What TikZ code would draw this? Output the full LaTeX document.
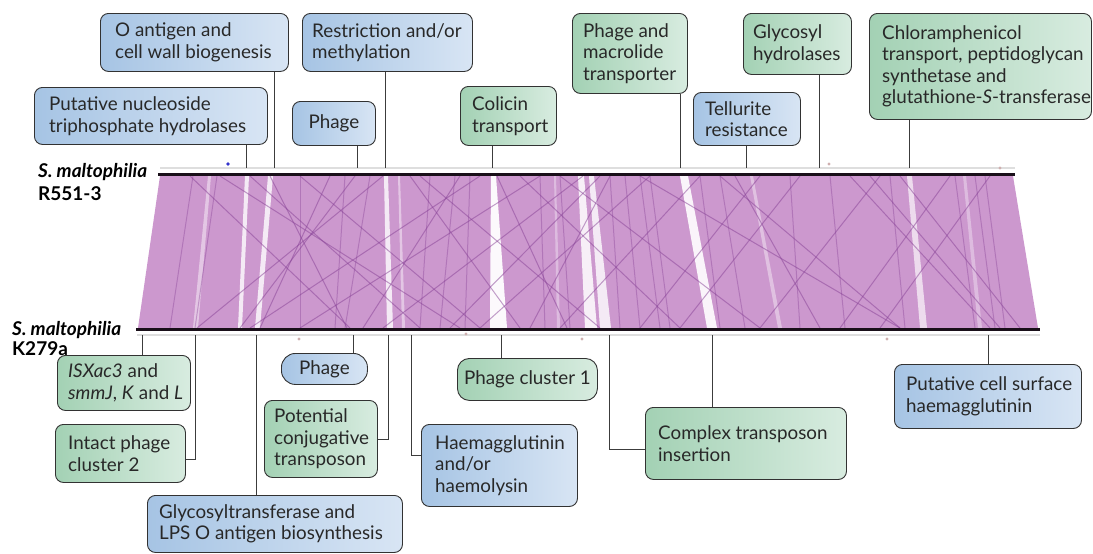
\documentclass[tikz,border=0pt]{standalone}
\usepackage{fontspec}
\setmainfont{Lato}
\definecolor{blueL}{RGB}{166,196,228}
\definecolor{blueR}{RGB}{216,229,244}
\definecolor{greenL}{RGB}{163,209,180}
\definecolor{greenR}{RGB}{216,236,224}
\definecolor{boxline}{RGB}{50,50,50}
\definecolor{connc}{RGB}{60,60,60}
\definecolor{txtc}{RGB}{40,40,40}
\definecolor{bandc}{RGB}{204,152,206}
\definecolor{bandln}{RGB}{135,65,150}
\definecolor{genome}{RGB}{25,15,25}
\definecolor{faint}{RGB}{222,222,222}
\tikzset{
  box/.style={draw=boxline, line width=0.9pt, rounded corners=8pt, inner sep=0pt, anchor=north west},
  bluebox/.style={box, left color=blueL, right color=blueR},
  greenbox/.style={box, left color=greenL, right color=greenR},
  txt/.style={font=\fontsize{18.8pt}{21.5pt}\selectfont, text=txtc, align=left, inner sep=0pt, anchor=west},
  lbl/.style={font=\fontsize{19pt}{21pt}\selectfont\bfseries, text=black, inner sep=0pt, anchor=base west},
  conn/.style={draw=connc, line width=0.9pt},
  xline/.style={draw=bandln, opacity=0.5, line width=1pt},
}
\begin{document}
\begin{tikzpicture}[x=1pt, y=-1pt]
\useasboundingbox (0,0) rectangle (1093,554);
\fill[white] (0,0) rectangle (1093,554);

% ---------- comparison band ----------
\fill[bandc] (160,176) -- (1013,176) -- (1038,328) -- (138,328) -- cycle;
\begin{scope}
  \clip (160,176) -- (1013,176) -- (1038,328) -- (138,328) -- cycle;
  % white (unmatched) strips
  \foreach \a/\b/\c/\d/\o in {245/249/238/242/0.8, 268/273/255/260/0.8, 208/211/193/198/0.45,
      384/388/387/393/0.8, 398/400/402/405/0.45, 491/496/490/507/0.95, 578/584/585/597/0.85,
      589/594/600/611/0.8, 680/688/707/717/0.9, 750/753/778/782/0.4, 907/912/920/927/0.65,
      963/966/978/982/0.35, 554/556/557/560/0.35}
    \fill[white, opacity=\o] (\a,176) -- (\b,176) -- (\d,328) -- (\c,328) -- cycle;
  % near-vertical match boundaries
  \foreach \a/\b in {193/170, 217/195, 300/300, 345/335, 370/345, 430/420, 455/440, 470/465,
      540/545, 560/570, 610/620, 625/640, 640/660, 650/670, 700/720, 720/745, 790/800,
      830/845, 890/905, 955/975, 975/995, 985/1005}
    \draw[xline, opacity=0.38] (\a,176) -- (\b,328);
  % crossing (inverted) matches
  \foreach \a/\b in {190/350, 270/347, 383/197, 330/260, 460/363, 497/567, 583/383, 540/300,
      420/600, 600/450, 650/480, 700/560, 720/900, 760/640, 800/680, 850/990, 880/760,
      950/840, 640/900, 560/760, 410/520, 300/480, 250/420, 220/460, 480/250, 520/680,
      870/1000, 990/880, 900/1020, 355/240, 610/530, 735/820}
    \draw[xline] (\a,176) -- (\b,328);
\end{scope}

% faint guide lines
\draw[faint, line width=1.5pt] (160,168) -- (1015,168);
\draw[faint, line width=1.5pt] (137,335) -- (1040,335);
% genome lines
\draw[genome, line width=3pt] (158,174.5) -- (1015,174.5);
\draw[genome, line width=3pt] (136,329) -- (1040,329);

% small marks
\fill[blue!60!gray] (228,164) circle (1.8);
\foreach \p in {(829,164), (1000,168), (299,339), (466,334), (582,339), (887,339)}
  \fill[red!25!gray!50] \p circle (1.6);

% ---------- genome labels ----------
\node[lbl] (ra) at (38,177) {\itshape S. maltophilia};
\node[lbl] (rb) at (38,200) {R551-3};
\node[lbl] (ka) at (12,335) {\itshape S. maltophilia};
\node[lbl] (kb) at (12,355) {K279a};

% ---------- top boxes ----------
\node[bluebox, minimum width=233pt, minimum height=57pt] (t1) at (34,87) {};
\node[txt] (t1x) at ([xshift=15pt]t1.west) {Putative nucleoside\\triphosphate hydrolases};
\node[bluebox, minimum width=188pt, minimum height=58pt] (t2) at (100,13) {};
\node[txt] (t2x) at ([xshift=15pt]t2.west) {O antigen and\\cell wall biogenesis};
\node[bluebox, minimum width=83pt, minimum height=44pt] (t3) at (292,101) {};
\node[txt, anchor=center] (t3x) at (t3.center) {Phage};
\node[bluebox, minimum width=170pt, minimum height=58pt] (t4) at (302,13) {};
\node[txt] (t4x) at ([xshift=10pt]t4.west) {Restriction and/or\\methylation};
\node[greenbox, minimum width=96pt, minimum height=59pt] (t5) at (460,86) {};
\node[txt] (t5x) at ([xshift=12pt]t5.west) {Colicin\\transport};
\node[greenbox, minimum width=115pt, minimum height=80pt] (t6) at (572,13) {};
\node[txt] (t6x) at ([xshift=11pt]t6.west) {Phage and\\macrolide\\transporter};
\node[bluebox, minimum width=107pt, minimum height=53pt] (t7) at (693,92) {};
\node[txt] (t7x) at ([xshift=12pt]t7.west) {Tellurite\\resistance};
\node[greenbox, minimum width=108pt, minimum height=61pt] (t8) at (743,13) {};
\node[txt] (t8x) at ([xshift=10pt]t8.west) {Glycosyl\\hydrolases};
\node[greenbox, minimum width=222pt, minimum height=106pt] (t9) at (869,13) {};
\node[txt] (t9x) at ([xshift=13pt]t9.west) {Chloramphenicol\\transport, peptidoglycan\\synthetase and\\glutathione-\textit{S}-transferase};

% top connectors
\coordinate (g1) at (246,168);
\coordinate (g2) at (274,168);
\coordinate (g3) at (357,168);
\coordinate (g4) at (385,168);
\coordinate (g5) at (492,168);
\coordinate (g6) at (680,168);
\coordinate (g7) at (746,168);
\coordinate (g8) at (819,168);
\coordinate (g9) at (909,168);
\draw[conn] (t1.south -| g1) -- (g1);
\draw[conn] (t2.south -| g2) -- (g2);
\draw[conn] (t3.south -| g3) -- (g3);
\draw[conn] (t4.south -| g4) -- (g4);
\draw[conn] (t5.south -| g5) -- (g5);
\draw[conn] (t6.south -| g6) -- (g6);
\draw[conn] (t7.south -| g7) -- (g7);
\draw[conn] (t8.south -| g8) -- (g8);
\draw[conn] (t9.south -| g9) -- (g9);

% ---------- bottom boxes ----------
\node[greenbox, minimum width=133pt, minimum height=55pt] (b1) at (57,355) {};
\node[txt] (b1x) at ([xshift=11pt]b1.west) {\textit{ISXac3} and\\\textit{smmJ}, \textit{K} and \textit{L}};
\node[greenbox, minimum width=130pt, minimum height=58pt] (b2) at (55,424) {};
\node[txt] (b2x) at ([xshift=13pt]b2.west) {Intact phage\\cluster 2};
\node[bluebox, minimum width=255pt, minimum height=57pt] (b3) at (147,495) {};
\node[txt] (b3x) at ([xshift=12pt]b3.west) {Glycosyltransferase and\\LPS O antigen biosynthesis};
\node[bluebox, minimum width=86pt, minimum height=31pt, rounded corners=14pt] (b4) at (281,353) {};
\node[txt, anchor=center] (b4x) at (b4.center) {Phage};
\node[greenbox, minimum width=113pt, minimum height=77pt] (b5) at (264,400) {};
\node[txt] (b5x) at ([xshift=10pt]b5.west) {Potential\\conjugative\\transposon};
\node[greenbox, minimum width=140pt, minimum height=42pt, rounded corners=12pt] (b6) at (457,358) {};
\node[txt, anchor=center] (b6x) at (b6.center) {Phage cluster 1};
\node[bluebox, minimum width=156pt, minimum height=82pt] (b7) at (421,424) {};
\node[txt] (b7x) at ([xshift=14pt]b7.west) {Haemagglutinin\\and/or\\haemolysin};
\node[greenbox, minimum width=201pt, minimum height=72pt] (b8) at (645,407) {};
\node[txt] (b8x) at ([xshift=13pt]b8.west) {Complex transposon\\insertion};
\node[bluebox, minimum width=187pt, minimum height=64pt] (b9) at (894,364) {};
\node[txt] (b9x) at ([xshift=12pt]b9.west) {Putative cell surface\\haemagglutinin};

% bottom connectors
\coordinate (h1) at (142,335);
\coordinate (h2) at (195,335);
\coordinate (h3) at (256,335);
\coordinate (h4) at (353,335);
\coordinate (h5) at (388,335);
\coordinate (h6) at (501,335);
\coordinate (h7) at (411,335);
\coordinate (h8) at (609,335);
\coordinate (h8b) at (712,335);
\coordinate (h9) at (988,335);
\draw[conn] (h1) -- (b1.north -| h1);
\draw[conn] (h2) |- ([yshift=-6pt]b2.east);
\draw[conn] (h3) -- (b3.north -| h3);
\draw[conn] (h4) -- (b4.north -| h4);
\draw[conn] (h5) |- (b5.east);
\draw[conn] (h6) -- (b6.north -| h6);
\draw[conn] (h7) |- ([yshift=10pt]b7.west);
\draw[conn] (h8) |- ([yshift=-6pt]b8.west);
\draw[conn] (h8b) -- (b8.north -| h8b);
\draw[conn] (h9) -- (b9.north -| h9);
\end{tikzpicture}
\end{document}
